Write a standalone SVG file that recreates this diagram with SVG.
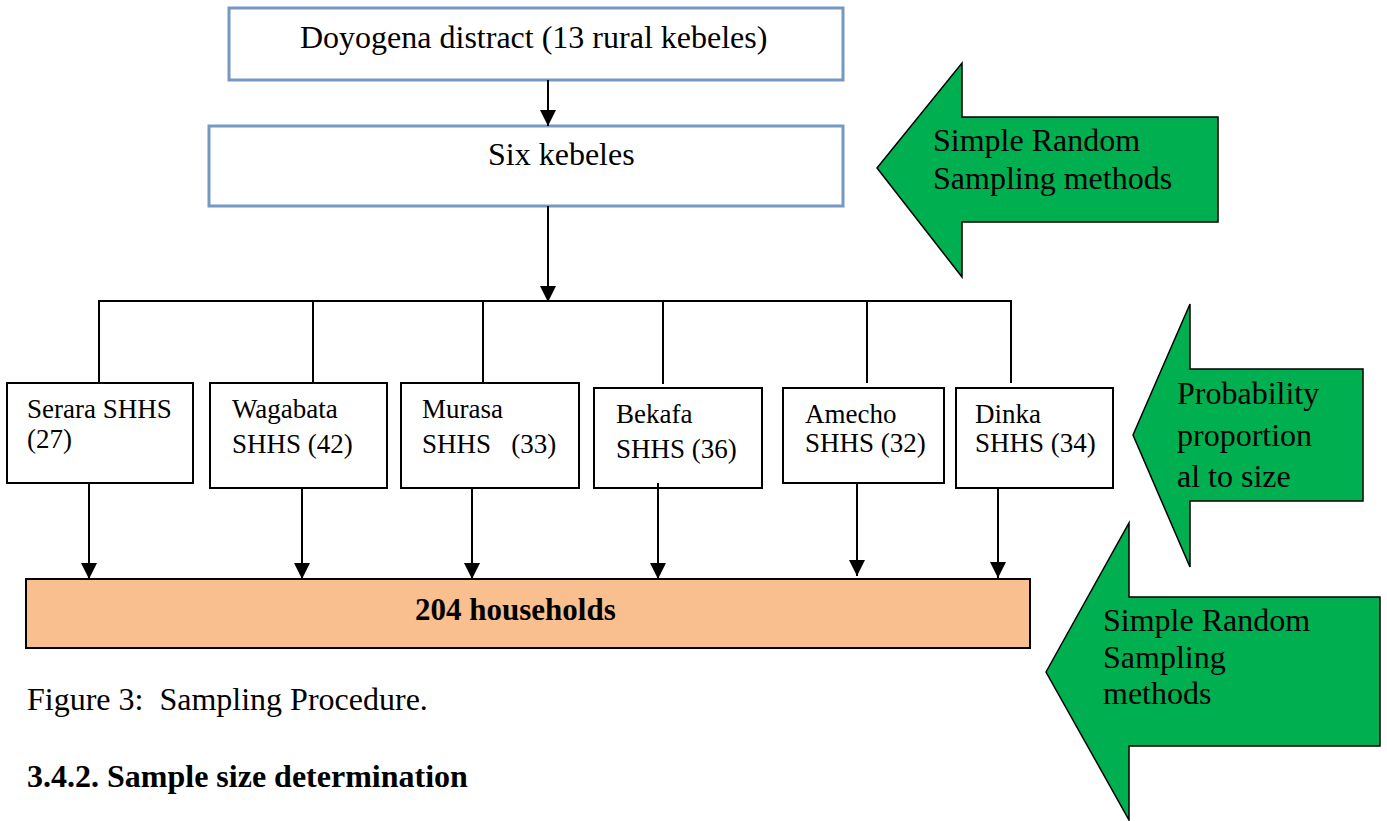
<svg xmlns="http://www.w3.org/2000/svg" width="1387" height="821" viewBox="0 0 1387 821">
<style>
  text { font-family: "Liberation Serif", "Times New Roman", serif; fill: #000; white-space: pre; }
  .big { font-size: 32px; }
  .box { font-size: 27px; }
  .bold { font-weight: bold; }
  .blue { fill: #fff; stroke: #7599C3; stroke-width: 3; }
  .plain { fill: #fff; stroke: #000; stroke-width: 2; }
  .green { fill: #00B050; stroke: #000; stroke-width: 1.5; stroke-linejoin: miter; }
  .conn { stroke: #000; stroke-width: 2; fill: none; }
</style>
<defs>
  <marker id="ah" viewBox="0 0 16 16" refX="16" refY="8" markerWidth="16" markerHeight="16" markerUnits="userSpaceOnUse" orient="auto">
    <path d="M0,0 L16,8 L0,16 z" fill="#000"/>
  </marker>
</defs>
<rect width="1387" height="821" fill="#fff"/>

<g id="district">
  <rect class="blue" x="229" y="8" width="614" height="72"/>
  <text class="big" x="300" y="48">Doyogena distract (13 rural kebeles)</text>
</g>
<g id="six-kebeles">
  <rect class="blue" x="209" y="126" width="634" height="80"/>
  <text class="big" x="488" y="165">Six kebeles</text>
</g>

<g id="serara">
  <rect class="plain" x="7" y="383" width="186" height="100"/>
  <text class="box" x="27" y="418">Serara SHHS</text>
  <text class="box" x="27" y="448">(27)</text>
</g>
<g id="wagabata">
  <rect class="plain" x="210" y="383" width="177" height="105"/>
  <text class="box" x="232" y="418">Wagabata</text>
  <text class="box" x="232" y="453">SHHS (42)</text>
</g>
<g id="murasa">
  <rect class="plain" x="401" y="383" width="178" height="105"/>
  <text class="box" x="422" y="418">Murasa</text>
  <text class="box" x="422" y="453">SHHS   (33)</text>
</g>
<g id="bekafa">
  <rect class="plain" x="594" y="388" width="168" height="100"/>
  <text class="box" x="616" y="423">Bekafa</text>
  <text class="box" x="616" y="458">SHHS (36)</text>
</g>
<g id="amecho">
  <rect class="plain" x="783" y="388" width="161" height="95"/>
  <text class="box" x="805" y="423">Amecho</text>
  <text class="box" x="805" y="452">SHHS (32)</text>
</g>
<g id="dinka">
  <rect class="plain" x="956" y="388" width="157" height="100"/>
  <text class="box" x="975" y="423">Dinka</text>
  <text class="box" x="975" y="452">SHHS (34)</text>
</g>

<g id="households">
  <rect x="26" y="579" width="1004" height="69" fill="#FABF8F" stroke="#000" stroke-width="2"/>
  <text class="big bold" x="415" y="620" style="font-size:31px">204 households</text>
</g>

<g id="connectors">
  <line class="conn" x1="548" y1="80" x2="548" y2="126" marker-end="url(#ah)"/>
  <line class="conn" x1="548" y1="206" x2="548" y2="302" marker-end="url(#ah)"/>
  <line class="conn" x1="98" y1="301" x2="1012" y2="301"/>
  <line class="conn" x1="99" y1="301" x2="99" y2="383"/>
  <line class="conn" x1="313" y1="301" x2="313" y2="383"/>
  <line class="conn" x1="483" y1="301" x2="483" y2="383"/>
  <line class="conn" x1="663" y1="301" x2="663" y2="384"/>
  <line class="conn" x1="867" y1="301" x2="867" y2="383"/>
  <line class="conn" x1="1011" y1="301" x2="1011" y2="383"/>
  <line class="conn" x1="89" y1="483" x2="89" y2="579" marker-end="url(#ah)"/>
  <line class="conn" x1="302" y1="488" x2="302" y2="579" marker-end="url(#ah)"/>
  <line class="conn" x1="472" y1="488" x2="472" y2="579" marker-end="url(#ah)"/>
  <line class="conn" x1="658" y1="483" x2="658" y2="579" marker-end="url(#ah)"/>
  <line class="conn" x1="857" y1="483" x2="857" y2="576" marker-end="url(#ah)"/>
  <line class="conn" x1="998" y1="488" x2="998" y2="578" marker-end="url(#ah)"/>
</g>

<g id="arrow-srs-1">
  <polygon class="green" points="877,168 962,63 962,117 1218,117 1218,222 962,222 962,277"/>
  <text class="big" x="933" y="151">Simple Random</text>
  <text class="big" x="933" y="189">Sampling methods</text>
</g>
<g id="arrow-pps">
  <polygon class="green" points="1133,435 1190,304 1190,369 1363,369 1363,501 1190,501 1190,567"/>
  <text class="big" x="1177" y="404">Probability</text>
  <text class="big" x="1177" y="446">proportion</text>
  <text class="big" x="1177" y="487">al to size</text>
</g>
<g id="arrow-srs-2">
  <polygon class="green" points="1046,672 1129,523 1129,597 1380,597 1380,746 1129,746 1129,820"/>
  <text class="big" x="1103" y="631">Simple Random</text>
  <text class="big" x="1103" y="668">Sampling</text>
  <text class="big" x="1103" y="704">methods</text>
</g>

<text class="big" x="27" y="710">Figure 3:  Sampling Procedure.</text>
<text class="big bold" x="27" y="787">3.4.2. Sample size determination</text>
</svg>
